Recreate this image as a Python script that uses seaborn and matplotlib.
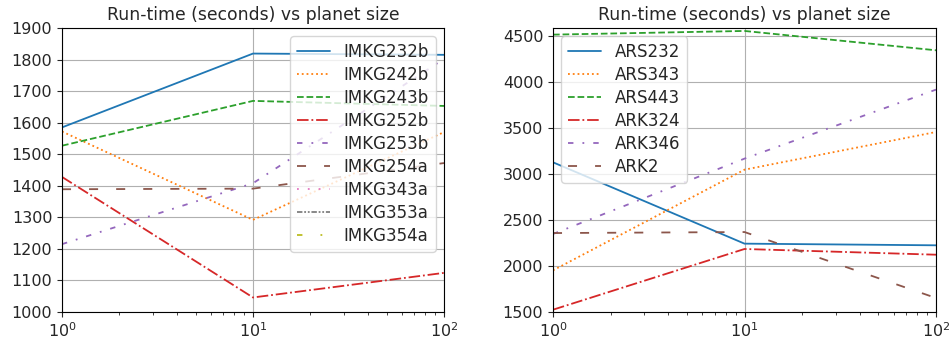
import numpy as np
import pandas as pd
import matplotlib
matplotlib.use("Agg")
import matplotlib.pyplot as plt
from matplotlib.ticker import MultipleLocator
import seaborn as sns

sns.set_style("ticks")
plt.rcParams['font.family'] = ['DejaVu Sans']
plt.rc("font", size=11.5)

sizes = [1, 10, 100]

# left panel: IMKG methods
imkg_names = ['IMKG232b', 'IMKG242b', 'IMKG243b', 'IMKG252b', 'IMKG253b',
              'IMKG254a', 'IMKG343a', 'IMKG353a', 'IMKG354a']
imkg232b = [1585, 1819, 1815]
imkg242b = [1572, 1292, 1570]
imkg243b = [1527, 1669, 1653]
imkg252b = [1428, 1046, 1124]
imkg253b = [1215, 1408, 1802]
imkg254a = [1389, 1391, 1472]
imkg343a = [np.nan, np.nan, np.nan]  # not visible in the plotted range
imkg353a = [np.nan, np.nan, np.nan]
imkg354a = [np.nan, np.nan, np.nan]

# right panel: ARS / ARK methods
ar_names = ['ARS232', 'ARS343', 'ARS443', 'ARK324', 'ARK346', 'ARK2']
ars232 = [3125, 2242, 2224]
ars343 = [1952, 3045, 3454]
ars443 = [4511, 4551, 4341]
ark324 = [1525, 2184, 2122]
ark346 = [2347, 3165, 3914]
ark2 = [2357, 2368, 1652]

styles = ["", (1, 1.65), (3.7, 1.6), (6.4, 1.6, 1, 1.6), (3, 5, 1, 5),
          (5, 10), (1, 5), (3, 1, 1, 1, 1, 1), (3, 10, 1, 10)]
colors = sns.color_palette("tab10")


def long_table(names, series):
    rows = []
    for n, vals in zip(names, series):
        for s, v in zip(sizes, vals):
            rows.append({'size': s, 'time': v, 'method': n})
    return pd.DataFrame(rows)


left = long_table(imkg_names, [imkg232b, imkg242b, imkg243b, imkg252b, imkg253b,
                               imkg254a, imkg343a, imkg353a, imkg354a])
right = long_table(ar_names, [ars232, ars343, ars443, ark324, ark346, ark2])

fig = plt.figure(figsize=(9.51, 3.43), dpi=100)
ax1 = fig.add_axes([62 / 951, 31 / 343, 382 / 951, 284 / 343])
ax2 = fig.add_axes([553 / 951, 31 / 343, 383 / 951, 284 / 343])

for ax, df, names, ylim, loc, step in [(ax1, left, imkg_names, (1000, 1900), 'upper right', 100),
                                       (ax2, right, ar_names, (1500, 4583), 'upper left', 500)]:
    sns.lineplot(data=df, x='size', y='time', hue='method', style='method',
                 hue_order=names, style_order=names,
                 palette=colors[:len(names)], dashes=styles[:len(names)],
                 estimator=None, linewidth=1.3, ax=ax)
    ax.set_xscale('log')
    ax.set_xlim(1, 100)
    ax.set_ylim(*ylim)
    ax.yaxis.set_major_locator(MultipleLocator(step))
    ax.grid(True, color='#b0b0b0', linewidth=0.8)
    ax.set_xlabel('')
    ax.set_ylabel('')
    ax.set_title('Run-time (seconds) vs planet size', fontsize=12.4)
    ax.tick_params(labelsize=11.5)
    for sp in ax.spines.values():
        sp.set_color('black')
        sp.set_linewidth(0.8)
    ax.legend(loc=loc, fontsize=12, framealpha=0.8, handlelength=2.0,
              labelspacing=0.3)

fig.savefig('out.png', dpi=100)
